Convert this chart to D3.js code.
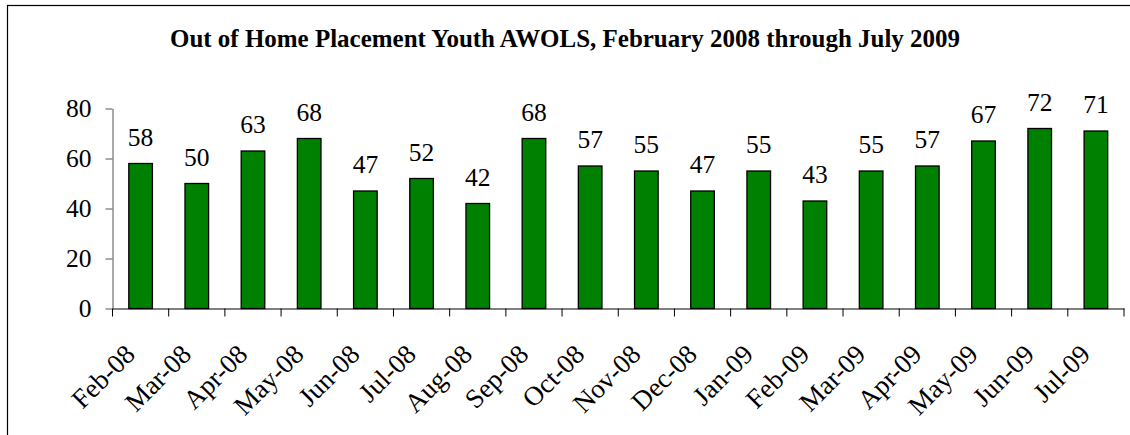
<!DOCTYPE html>
<html><head><meta charset="utf-8">
<script src="https://cdn.jsdelivr.net/npm/d3@7"></script>
<style>html,body{margin:0;padding:0;background:#fff;}svg{display:block;}</style>
</head><body>
<svg id="c" width="1130" height="435"></svg>
<script>
const categories = ["Feb-08","Mar-08","Apr-08","May-08","Jun-08","Jul-08","Aug-08","Sep-08","Oct-08","Nov-08","Dec-08","Jan-09","Feb-09","Mar-09","Apr-09","May-09","Jun-09","Jul-09"];
const values = [58,50,63,68,47,52,42,68,57,55,47,55,43,55,57,67,72,71];
const yTicks = [0,20,40,60,80];
const title = "Out of Home Placement Youth AWOLS, February 2008 through July 2009";

const svg = d3.select("#c");
const font = "'Liberation Serif','Times New Roman',serif";
svg.append("rect").attr("x",7.5).attr("y",5.5).attr("width",1140).attr("height",450)
  .attr("fill","#fff").attr("stroke","#000").attr("stroke-width",1.2);

const x = d3.scaleBand().domain(categories).range([112.5,1124]).paddingInner(0.58).paddingOuter(0.29);
const y = d3.scaleLinear().domain([0,80]).range([308.5,108.5]);

svg.append("text").attr("x",565).attr("y",47).attr("text-anchor","middle")
  .attr("font-family",font).attr("font-weight","bold").attr("font-size",26)
  .attr("textLength",790).attr("lengthAdjust","spacingAndGlyphs").text(title);

// bars
svg.selectAll("rect.bar").data(values).join("rect").attr("class","bar")
  .attr("x",(d,i)=>x(categories[i])).attr("width",x.bandwidth())
  .attr("y",d=>y(d)).attr("height",d=>y(0)-y(d))
  .attr("fill","#008000").attr("stroke","#000").attr("stroke-width",1.3);

// value labels
svg.selectAll("text.val").data(values).join("text").attr("class","val")
  .attr("x",(d,i)=>x(categories[i])+x.bandwidth()/2).attr("y",d=>y(d)-18)
  .attr("text-anchor","middle").attr("font-family",font).attr("font-size",25.5).text(d=>d);

// y axis
const ya = svg.append("g").attr("transform","translate(112.5,0)")
  .call(d3.axisLeft(y).tickValues(yTicks).tickSize(7).tickPadding(14).tickSizeOuter(0));
ya.attr("font-family",font);
ya.select(".domain").attr("stroke","#555");
ya.selectAll(".tick line").attr("stroke","#555");
ya.selectAll("text").attr("font-family",font).attr("font-size",25.5).attr("fill","#000");

// x axis
const xb = d3.scaleBand().domain(categories).range([112.5,1124]);
const xa = svg.append("g").attr("transform","translate(0,308.5)")
  .call(d3.axisBottom(xb).tickSize(0).tickSizeOuter(0));
xa.select(".domain").attr("stroke","#000");
xa.selectAll(".tick text").remove();
const bounds = d3.range(categories.length+1).map(i=>112.5+i*xb.step());
xa.selectAll("line.b").data(bounds).join("line").attr("class","b")
  .attr("x1",d=>d).attr("x2",d=>d).attr("y1",0).attr("y2",8).attr("stroke","#000");
svg.selectAll("text.xl").data(categories).join("text").attr("class","xl")
  .attr("transform",d=>`translate(${xb(d)+xb.bandwidth()/2-4},356) rotate(-45)`)
  .attr("text-anchor","end").attr("font-family",font).attr("font-size",27).text(d=>d);
</script>
</body></html>
